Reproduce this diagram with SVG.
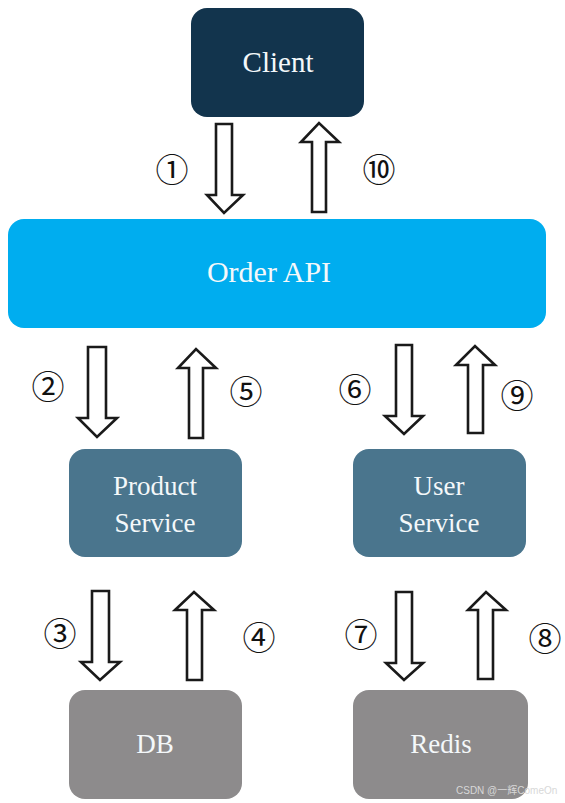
<svg xmlns="http://www.w3.org/2000/svg" width="565" height="803" viewBox="0 0 565 803">
<style>
.arr{fill:#fff;stroke:#1a1a1a;stroke-width:2.6;stroke-linejoin:miter}
.lbl{font-family:"Liberation Serif",serif;fill:#f4f8fa;text-anchor:middle}
.num{font-family:"Noto Sans CJK JP","DejaVu Sans",sans-serif;font-size:33px;fill:#111;text-anchor:middle}
</style>
<rect width="565" height="803" fill="#fff"/>
<g id="client"><rect x="191" y="8" width="173" height="109" rx="16" fill="#12344d"/><text class="lbl" x="278" y="72" font-size="29">Client</text></g>
<g id="order-api"><rect x="8" y="219" width="538" height="109" rx="16" fill="#00adef"/><text class="lbl" x="269" y="282" font-size="30">Order API</text></g>
<g id="product-service"><rect x="69" y="449" width="173" height="108" rx="16" fill="#4a758d"/><text class="lbl" x="155" y="495" font-size="27">Product</text><text class="lbl" x="155" y="532" font-size="27">Service</text></g>
<g id="user-service"><rect x="353" y="449" width="173" height="108" rx="16" fill="#4a758d"/><text class="lbl" x="439" y="495" font-size="27">User</text><text class="lbl" x="439" y="532" font-size="27">Service</text></g>
<g id="db"><rect x="69" y="690" width="173" height="109" rx="16" fill="#8d8b8c"/><text class="lbl" x="155" y="753" font-size="27">DB</text></g>
<g id="redis"><rect x="353" y="690" width="175" height="109" rx="16" fill="#8d8b8c"/><text class="lbl" x="441" y="753" font-size="27">Redis</text></g>
<g id="connectors">
<polygon class="arr" points="216,124 232,124 232,195 243,195 224,213 207,195 216,195"/>
<polygon class="arr" points="312,212 326,212 326,142 339,142 319,123 301,142 312,142"/>
<polygon class="arr" points="88,347 106,347 106,418 117,418 97,437 78,418 88,418"/>
<polygon class="arr" points="189,438 203,438 203,368 216,368 196,349 178,368 189,368"/>
<polygon class="arr" points="396,345 412,345 412,416 423,416 404,434 385,416 396,416"/>
<polygon class="arr" points="468,433 483,433 483,365 495,365 475,346 456,365 468,365"/>
<polygon class="arr" points="92,591 109,591 109,662 120,662 100,680 81,662 92,662"/>
<polygon class="arr" points="187,680 202,680 202,610 214,610 194,592 175,610 187,610"/>
<polygon class="arr" points="396,592 412,592 412,663 423,663 404,680 386,663 396,663"/>
<polygon class="arr" points="478,679 493,679 493,610 506,610 486,592 468,610 478,610"/>
</g>
<g id="labels">
<text class="num" x="172" y="182">①</text>
<text class="num" x="379" y="182">⑩</text>
<text class="num" x="48" y="399">②</text>
<text class="num" x="246" y="404">⑤</text>
<text class="num" x="355" y="402">⑥</text>
<text class="num" x="517" y="408">⑨</text>
<text class="num" x="60" y="646">③</text>
<text class="num" x="259" y="650">④</text>
<text class="num" x="361" y="647">⑦</text>
<text class="num" x="545" y="651">⑧</text>
</g>
<text x="456" y="794" font-family="'Liberation Sans','Noto Sans CJK SC',sans-serif" font-size="10" fill="#d8d8d8">CSDN @一辉ComeOn</text>
</svg>
